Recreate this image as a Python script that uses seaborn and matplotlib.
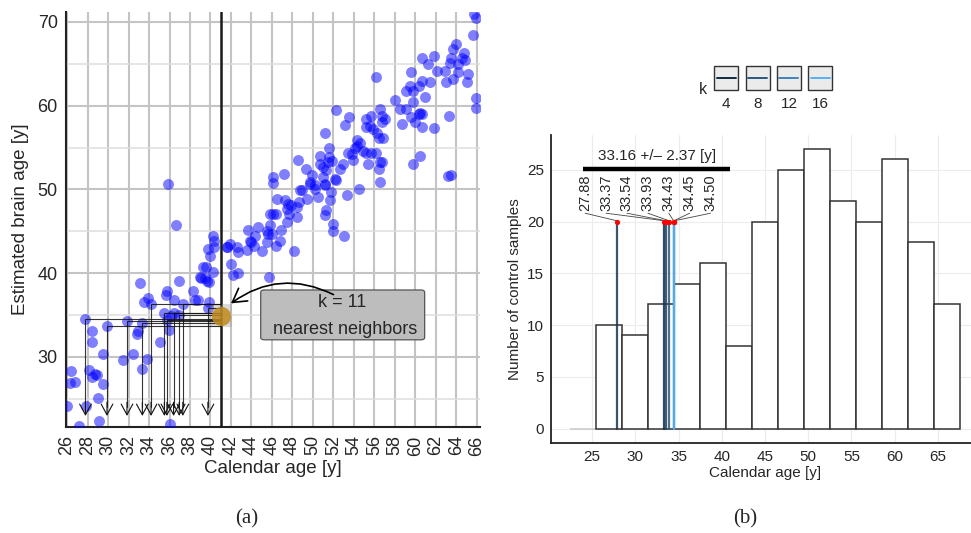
import numpy as np
import pandas as pd
import matplotlib
matplotlib.use("Agg")
import matplotlib.pyplot as plt
import seaborn as sns
from matplotlib.patches import Rectangle, FancyBboxPatch
from matplotlib.colors import LinearSegmentedColormap

# ---------------- data: panel (a) ----------------
calendar_age = [
    # neighbours of the query
    27.8, 29.9, 31.85, 33.35, 34.2, 35.5, 35.75, 36.4, 36.95, 37.3, 39.75,
    # young / lower-left
    36.6, 40.27, 40.34, 40.34, 39.8, 40.0, 39.56, 40.27, 39.1, 39.66, 39.9, 33.1, 36.95,
    38.3, 35.8, 35.7, 36.45, 38.75, 39.9, 33.9, 33.5, 36.1, 32.95, 32.8, 35.95, 28.4,
    28.47, 35.07, 29.5, 32.4, 31.5, 33.8, 33.35, 26.4, 28.15, 28.7, 28.4, 26.3, 26.8,
    29.5, 29.05, 27.85, 26.0, 29.15, 27.2, 36.05, 35.9, 39.3, 39.0, 39.5, 28.9, 38.5,
    # 41-49
    46.07, 46.1, 46.5, 47.3, 47.6, 47.9, 47.5, 48.6, 48.4, 49.4, 46.1, 46.4, 45.8, 47.7,
    48.4, 47.5, 45.8, 45.5, 43.7, 44.6, 46.0, 46.9, 44.0, 44.3, 45.5, 46.8, 46.4, 41.9,
    41.6, 42.55, 42.7, 43.6, 45.0, 48.15, 42.0, 42.2, 42.7, 45.7, 43.85, 44.2, 45.6, 41.6,
    # 47-57
    48.7, 49.7, 50.2, 51.2, 51.8, 52.2, 53.3, 50.5, 51.7, 51.3, 51.2, 52.0, 52.0, 53.0,
    48.9, 47.2, 49.9, 49.7, 50.2, 51.0, 51.2, 48.5, 49.3, 50.7, 51.6, 51.5, 51.9, 50.7,
    51.0, 51.3, 52.95, 52.6, 52.15, 51.6, 53.4, 53.8, 53.9, 55.2, 55.7, 56.15, 55.4,
    56.5, 56.7, 56.4, 56.5, 54.5, 54.3, 54.6, 54.1, 54.9, 54.3, 51.2, 56.2, 56.4, 56.8,
    55.2, 55.6, 55.9, 55.2, 55.7, 56.5, 56.7, 57.0, 56.7, 53.1, 53.55, 52.25,
    # 56-66
    65.7, 65.9, 65.6, 64.0, 63.7, 64.7, 64.5, 64.8, 60.6, 61.85, 61.2, 63.5, 63.4, 64.2,
    56.15, 59.6, 62.1, 62.9, 64.2, 65.15, 63.7, 63.0, 65.0, 61.4, 60.6, 60.3, 59.5, 59.1,
    59.8, 60.9, 58.0, 58.5, 59.1, 59.8, 60.3, 60.6, 60.45, 59.6, 58.65, 59.95, 60.6,
    61.85, 63.3, 65.9, 65.9, 60.45, 59.8, 63.2, 63.5,
]
brain_age = [
    34.5, 33.75, 34.35, 34.1, 36.35, 35.2, 34.45, 35.2, 35.0, 36.3, 35.85,
    45.75, 44.5, 43.85, 43.1, 42.9, 42.1, 40.75, 40.15, 39.4, 39.05, 38.9, 38.8, 39.05,
    37.86, 37.86, 37.4, 36.8, 36.8, 36.6, 37.0, 36.6, 34.85, 33.1, 32.7, 33.2, 33.1,
    31.75, 31.75, 30.4, 30.4, 29.6, 29.7, 28.6, 28.3, 28.5, 28.0, 27.6, 26.9, 27.0,
    26.75, 25.15, 24.2, 24.1, 22.3, 21.8, 22.0, 50.6, 40.75, 39.55, 39.4, 27.85, 36.8,
    50.75, 51.5, 48.9, 48.7, 48.3, 48.1, 47.7, 48.5, 47.9, 48.9, 47.1, 47.1, 47.1, 47.1,
    46.7, 46.1, 45.7, 45.1, 45.2, 45.5, 44.7, 45.2, 43.7, 44.5, 43.7, 43.9, 43.2, 43.5,
    43.1, 43.1, 42.5, 42.8, 42.65, 42.65, 41.15, 39.8, 40.0, 39.6, 43.9, 43.3, 44.7, 43.1,
    49.9, 50.7, 50.5, 50.5, 49.7, 51.1, 49.3, 49.1, 48.7, 47.5, 46.9, 45.9, 45.0, 44.5,
    49.9, 51.8, 51.7, 50.9, 50.1, 51.5, 50.7, 53.5, 52.45, 54.0, 53.9, 53.25, 53.45, 53.05,
    52.7, 52.3, 53.05, 52.45, 51.3, 54.9, 54.4, 54.2, 53.5, 54.4, 54.4, 54.3, 53.1,
    53.3, 53.25, 52.5, 50.9, 50.1, 55.9, 55.6, 55.0, 54.6, 55.2, 56.7, 56.8, 56.2, 56.1,
    57.4, 57.6, 57.2, 58.4, 58.8, 59.6, 58.8, 58.4, 58.0, 57.7, 58.6, 59.5,
    71.0, 70.5, 68.5, 67.4, 66.75, 66.3, 65.7, 65.4, 65.7, 65.95, 65.0, 65.75, 65.15, 65.0,
    63.4, 64.05, 64.2, 64.1, 64.0, 63.8, 63.2, 62.8, 62.85, 62.8, 63.0, 62.4, 62.4, 61.8,
    61.8, 61.0, 60.7, 59.6, 59.6, 60.4, 59.0, 59.0, 59.1, 58.6, 57.8, 58.0, 57.4,
    57.3, 58.8, 60.9, 59.7, 54.0, 53.05, 51.6, 51.7,
]
query_calendar = 41.0
query_brain = 34.85
neighbor_calendar = [27.8, 29.9, 31.85, 33.35, 34.2, 35.5, 35.75, 36.4, 36.95, 37.3, 39.75]
neighbor_brain = [34.5, 33.75, 34.35, 34.1, 36.35, 35.2, 34.45, 35.2, 35.0, 36.3, 35.85]
annot_line1 = "k = 11"
annot_line2 = "nearest neighbors"
x_ticks_a = list(range(26, 67, 2))
y_ticks_a = [30, 40, 50, 60, 70]

# ---------------- data: panel (b) ----------------
hist_centers = [24, 27, 30, 33, 36, 39, 42, 45, 48, 51, 54, 57, 60, 63, 66]
hist_counts = [0, 10, 9, 12, 14, 16, 8, 20, 25, 27, 22, 20, 26, 18, 12]
estimates = [27.88, 33.37, 33.54, 33.93, 34.43, 34.45, 34.50]
estimate_k = [5, 4, 6, 8, 10, 12, 16]
estimate_labels = ["27.88", "33.37", "33.54", "33.93", "34.43", "34.45", "34.50"]
summary_text = "33.16 +/\u2013 2.37 [y]"
legend_k = [4, 8, 12, 16]
x_ticks_b = [25, 30, 35, 40, 45, 50, 55, 60, 65]
y_ticks_b = [0, 5, 10, 15, 20, 25]

# ---------------- style ----------------
sns.set_style("white")
plt.rcParams["font.family"] = ["Liberation Sans", "DejaVu Sans"]
k_cmap = LinearSegmentedColormap.from_list("kgrad", ["#132B43", "#56B1F7"])
def k_color(k):
    return k_cmap((k - 4) / 12.0)

W, H = 971, 533
fig = plt.figure(figsize=(W / 100, H / 100), dpi=100)

# ================= panel (a) =================
ax = fig.add_axes([66 / W, 1 - 427 / H, (480 - 66) / W, (427 - 12) / H])
ax.set_xlim(25.9, 66.3)
ax.set_ylim(21.64, 71.19)
ax.set_xticks(x_ticks_a)
ax.set_yticks(y_ticks_a)
ax.set_yticks([25, 35, 45, 55, 65], minor=True)
ax.grid(True, which="major", color="#c4c4c4", lw=1.5)
ax.grid(True, which="minor", axis="y", color="#dedede", lw=1.1)
ax.set_axisbelow(True)
for s in ["top", "right"]:
    ax.spines[s].set_visible(False)
for s in ["left", "bottom"]:
    ax.spines[s].set_color("#222222")
    ax.spines[s].set_linewidth(1.5)
ax.tick_params(axis="x", labelrotation=90, labelsize=13, length=4, color="#333333", pad=2)
ax.tick_params(axis="y", labelsize=13, length=4, color="#333333", pad=2)
ax.tick_params(which="minor", length=0)

sns.scatterplot(x=calendar_age, y=brain_age, color="#0000ff", alpha=0.5, s=62,
                linewidth=0, marker="o", ax=ax, zorder=3)

ax.axvline(query_calendar, color="#1a1a1a", lw=1.8, zorder=4)

# gray highlight behind query point
ax.add_patch(Rectangle((40.0, 33.6), 2.1, 2.7, facecolor="#9a9a9a", alpha=0.35,
                       edgecolor="none", zorder=4))

for c, b in zip(neighbor_calendar, neighbor_brain):
    ax.plot([query_calendar, c, c], [b, b, 24.0], color="#111111", lw=0.8, alpha=0.85, zorder=5)
    ax.annotate("", xy=(c, 22.96), xytext=(c, 24.6),
                arrowprops=dict(arrowstyle="->,head_length=0.55,head_width=0.3",
                                color="#111111", lw=0.8, shrinkA=0, shrinkB=0,
                                mutation_scale=14), zorder=5)

sns.scatterplot(x=[query_calendar], y=[query_brain], color="#c08a1e", alpha=0.85,
                s=190, linewidth=0, ax=ax, zorder=6)

# annotation box
ax.add_patch(FancyBboxPatch((44.9, 32.05), 16.0, 5.95,
                            boxstyle="round,pad=0,rounding_size=0.35",
                            facecolor="#bdbdbd", edgecolor="#555555", lw=0.9,
                            zorder=6, mutation_aspect=0.85))
ax.text(52.8, 36.5, annot_line1, ha="center", va="center", fontsize=13, zorder=7)
ax.text(53.1, 33.25, annot_line2, ha="center", va="center", fontsize=13, zorder=7)
ax.annotate("", xy=(42.0, 36.4), xytext=(52.0, 37.45),
            arrowprops=dict(arrowstyle="->,head_length=0.6,head_width=0.35",
                            connectionstyle="arc3,rad=0.3", color="black", lw=1.2,
                            mutation_scale=16, shrinkA=0, shrinkB=0), zorder=7)

ax.set_xlabel("Calendar age [y]", fontsize=13.5, labelpad=3)
ax.set_ylabel("Estimated brain age [y]", fontsize=13.5, labelpad=6)

# ================= panel (b) =================
ax2 = fig.add_axes([551 / W, 1 - 442.7 / H, (979 - 551) / W, (442.7 - 135) / H])
hist_df = pd.DataFrame({"age": hist_centers, "n": hist_counts})
sns.histplot(data=hist_df, x="age", weights="n", binwidth=3, binrange=(22.5, 67.5),
             stat="count", color="white", alpha=1, edgecolor="#333333", linewidth=1.1,
             ax=ax2, zorder=2)
for p in ax2.patches:
    if p.get_height() == 0:
        p.set_edgecolor("#c8c8c8")
ax2.set_xlim(20.25, 69.75)
ax2.set_ylim(-1.35, 28.35)
ax2.set_xticks(x_ticks_b)
ax2.set_yticks(y_ticks_b)
ax2.grid(True, color="#ececec", lw=0.8)
ax2.set_axisbelow(True)
for s in ["top", "right"]:
    ax2.spines[s].set_visible(False)
for s in ["left", "bottom"]:
    ax2.spines[s].set_color("#222222")
    ax2.spines[s].set_linewidth(1.3)
ax2.tick_params(labelsize=11, length=3, color="#333333", pad=2)
ax2.set_xlabel("Calendar age [y]", fontsize=11, labelpad=2)
ax2.set_ylabel("Number of control samples", fontsize=11, labelpad=4)

for e, k in zip(estimates, estimate_k):
    ax2.plot([e, e], [0, 20], color=k_color(k), lw=1.6, alpha=0.85, zorder=3)
sns.scatterplot(x=estimates, y=[20] * len(estimates), color="red", s=14,
                linewidth=0, ax=ax2, zorder=5)

label_x = np.linspace(24.2, 38.7, len(estimates))
for lx, e, lab in zip(label_x, estimates, estimate_labels):
    ax2.plot([lx, e], [20.8, 20.07], color="#444444", lw=0.6, zorder=4)
    ax2.text(lx, 21.0, lab, rotation=90, ha="center", va="bottom", fontsize=10.5, zorder=6)

ax2.plot([24.0, 41.0], [25.1, 25.1], color="black", lw=3.2, solid_capstyle="butt", zorder=6)
ax2.text(32.5, 25.65, summary_text, ha="center", va="bottom", fontsize=11, zorder=6)

# ================= overlay: legend and panel labels =================
ov = fig.add_axes([0, 0, 1, 1], zorder=10)
ov.set_xlim(0, W)
ov.set_ylim(H, 0)
ov.axis("off")
ov.patch.set_alpha(0)
ov.text(703, 90, "k", ha="center", va="center", fontsize=11.5)
for i, k in enumerate(legend_k):
    x0 = 714.3 + i * 31.3
    ov.add_patch(Rectangle((x0, 66), 24, 24, facecolor="#ebebeb", edgecolor="#333333", lw=1.0))
    ov.plot([x0 + 2.5, x0 + 21.5], [78.3, 78.3], color=k_color(k), lw=1.4)
    ov.text(x0 + 12, 104, str(k), ha="center", va="center", fontsize=11)

ov.text(247, 519, "(a)", ha="center", va="center", fontsize=15,
        family=["Liberation Serif", "DejaVu Serif"])
ov.text(745, 519, "(b)", ha="center", va="center", fontsize=15,
        family=["Liberation Serif", "DejaVu Serif"])

fig.savefig("out.png", dpi=100)
